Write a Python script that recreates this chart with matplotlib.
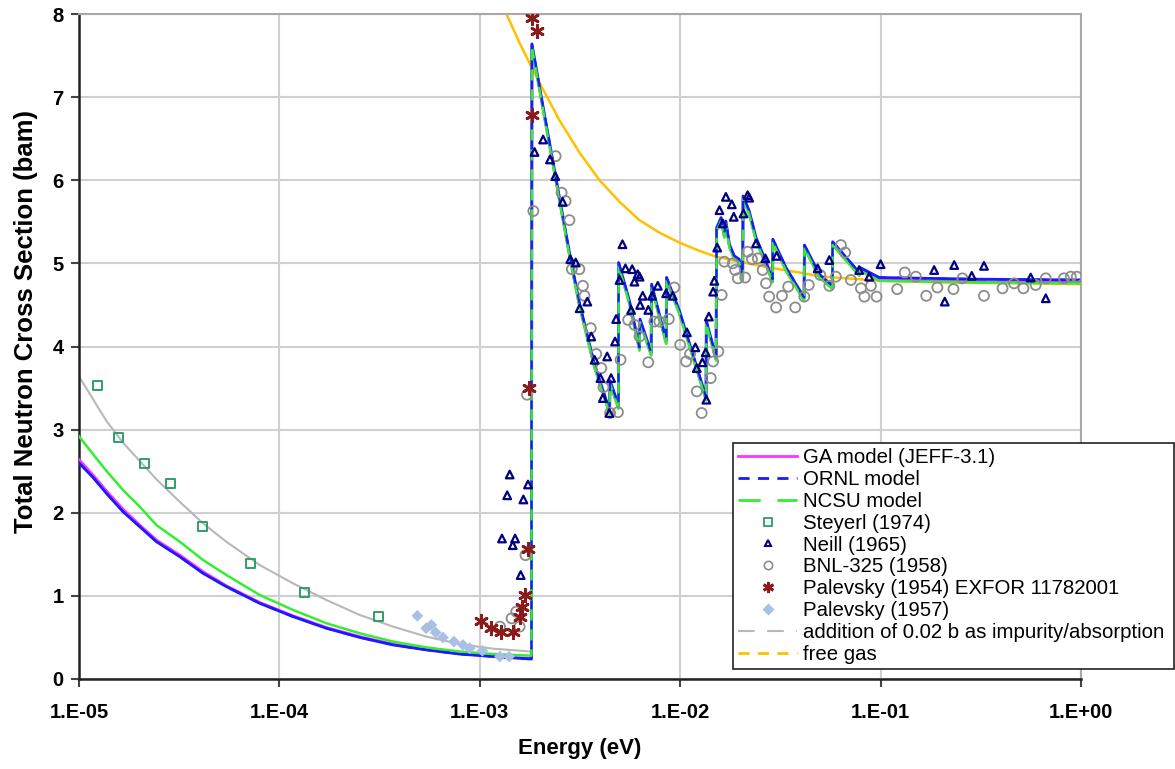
import numpy as np
import matplotlib
matplotlib.use("Agg")
import matplotlib.pyplot as plt
from matplotlib.lines import Line2D
from matplotlib.ticker import FixedLocator, FixedFormatter, NullLocator

plt.rcParams['font.family'] = ['Liberation Sans', 'DejaVu Sans']

# ---------------- data ----------------
# low-energy part of the models (below the Bragg cut-off); energy in eV, sigma in barn
low_E = [1.0e-5, 1.179e-5, 1.374e-5, 1.663e-5, 2.014e-5, 2.439e-5, 3.188e-5, 4.168e-5,
         5.447e-5, 7.986e-5, 1.171e-4, 1.717e-4, 2.517e-4, 3.69e-4, 5.41e-4, 7.93e-4,
         1.163e-3, 1.81e-3]
ornl_low = [2.60, 2.42, 2.23, 2.01, 1.83, 1.65, 1.47, 1.27,
            1.11, 0.91, 0.75, 0.61, 0.50, 0.41, 0.35, 0.30,
            0.27, 0.24]
ga_low = [2.64, 2.45, 2.26, 2.04, 1.85, 1.67, 1.49, 1.29,
          1.12, 0.92, 0.76, 0.62, 0.51, 0.42, 0.355, 0.305,
          0.275, 0.245]
ncsu_low = [2.92, 2.70, 2.50, 2.27, 2.07, 1.85, 1.65, 1.43,
            1.25, 1.01, 0.83, 0.67, 0.55, 0.45, 0.38, 0.33,
            0.30, 0.28]
imp_low = [3.64, 3.36, 3.10, 2.84, 2.62, 2.40, 2.13, 1.87,
           1.65, 1.37, 1.15, 0.95, 0.77, 0.63, 0.51, 0.42,
           0.365, 0.33]

# Bragg-edge (sawtooth) part shared by the models
bragg_E = [1.82e-3, 2.07e-3, 2.38e-3, 2.83e-3, 3.15e-3, 3.73e-3, 4.44e-3, 4.47e-3,
           4.92e-3, 4.93e-3, 5.58e-3, 6.26e-3, 6.30e-3, 7.16e-3, 7.20e-3, 8.51e-3,
           8.55e-3, 9.91e-3, 1.155e-2, 1.346e-2, 1.35e-2, 1.51e-2, 1.52e-2, 1.60e-2,
           1.66e-2, 1.69e-2, 1.76e-2, 1.86e-2, 1.97e-2, 2.05e-2, 2.06e-2, 2.21e-2,
           2.39e-2, 2.63e-2, 2.89e-2, 2.90e-2, 3.37e-2, 4.15e-2, 4.17e-2, 4.94e-2,
           5.75e-2, 5.76e-2, 7.82e-2, 7.90e-2, 9.84e-2, 0.30, 1.0]
bragg_sigma = [7.61, 6.85, 6.04, 5.04, 4.48, 3.76, 3.20, 3.56,
               3.26, 4.98, 4.52, 3.96, 4.30, 3.90, 4.72, 4.04,
               4.80, 4.40, 3.88, 3.36, 4.28, 3.84, 5.40, 5.52,
               5.32, 5.48, 5.20, 5.06, 5.02, 4.80, 5.78, 5.60,
               5.28, 5.04, 4.78, 5.26, 4.92, 4.56, 5.19, 4.84,
               4.70, 5.23, 4.86, 4.92, 4.80, 4.78, 4.77]
ornl_high_offset = 0.03

# free gas
fg_E = [1.33e-3, 1.58e-3, 1.92e-3, 2.50e-3, 3.15e-3, 3.96e-3, 4.98e-3, 6.26e-3,
        7.87e-3, 9.91e-3, 1.25e-2, 1.51e-2, 1.97e-2, 2.78e-2, 3.93e-2, 5.12e-2,
        0.102, 0.22, 1.0]
fg_sigma = [8.05, 7.65, 7.24, 6.72, 6.33, 6.00, 5.74, 5.52,
            5.37, 5.25, 5.15, 5.08, 5.02, 4.95, 4.89, 4.84,
            4.79, 4.77, 4.75]

# Steyerl (1974)
steyerl_E = [1.23e-5, 1.58e-5, 2.13e-5, 2.87e-5, 4.14e-5, 7.15e-5, 1.33e-4, 3.14e-4]
steyerl_sigma = [3.53, 2.90, 2.59, 2.35, 1.83, 1.39, 1.04, 0.75]

# Neill (1965)
neill_E = [1.41e-3, 1.37e-3, 1.65e-3, 1.74e-3, 1.29e-3, 1.50e-3, 1.46e-3, 1.60e-3,
           1.875e-3, 2.07e-3, 2.24e-3, 2.38e-3, 2.59e-3, 2.83e-3, 3.01e-3, 3.15e-3,
           3.44e-3, 3.60e-3, 3.74e-3, 4.32e-3, 4.00e-3, 4.52e-3, 4.11e-3, 4.43e-3,
           5.15e-3, 4.98e-3, 4.79e-3, 4.73e-3, 5.33e-3, 5.76e-3, 5.91e-3, 5.69e-3,
           6.14e-3, 6.27e-3, 6.50e-3, 6.31e-3, 6.93e-3, 7.24e-3, 7.73e-3, 8.51e-3,
           9.18e-3, 1.08e-2, 1.19e-2, 1.21e-2, 1.29e-2, 1.34e-2, 1.35e-2, 1.39e-2,
           1.46e-2, 1.48e-2, 1.53e-2, 1.57e-2, 1.69e-2, 1.81e-2, 1.85e-2, 1.63e-2,
           2.07e-2, 2.17e-2, 2.21e-2, 2.39e-2, 2.66e-2, 3.03e-2, 4.85e-2, 5.55e-2,
           0.100, 7.82e-2, 8.77e-2, 0.185, 0.233, 0.328, 0.285, 0.209, 0.561, 0.667]
neill_sigma = [2.46, 2.21, 2.16, 2.34, 1.69, 1.69, 1.61, 1.25,
               6.34, 6.49, 6.25, 6.05, 5.74, 5.05, 5.01, 4.46,
               4.54, 4.12, 3.84, 3.88, 3.62, 3.62, 3.38, 3.20,
               5.23, 4.80, 4.33, 4.06, 4.94, 4.93, 4.78, 4.44,
               4.87, 4.84, 4.61, 4.50, 4.44, 4.61, 4.73, 4.64,
               4.61, 4.17, 3.99, 3.74, 3.81, 3.93, 3.36, 4.36,
               4.66, 4.79, 5.19, 5.64, 5.80, 5.71, 5.56, 5.48,
               5.60, 5.82, 5.79, 5.24, 5.06, 5.09, 4.94, 5.04,
               4.99, 4.92, 4.84, 4.92, 4.98, 4.97, 4.85, 4.54, 4.83, 4.58]

# BNL-325 (1958)
bnl_E = [1.26e-3, 1.44e-3, 1.52e-3, 1.58e-3, 1.69e-3, 1.72e-3, 1.85e-3,
         2.39e-3, 2.56e-3, 2.68e-3, 2.80e-3, 2.88e-3, 3.14e-3, 3.27e-3, 3.33e-3,
         3.58e-3, 3.81e-3, 4.04e-3, 4.14e-3, 4.47e-3, 4.89e-3, 5.04e-3,
         5.50e-3, 5.92e-3, 6.27e-3, 6.93e-3, 7.43e-3, 7.87e-3, 8.77e-3, 9.35e-3,
         1.00e-2, 1.07e-2, 1.12e-2, 1.21e-2, 1.28e-2, 1.42e-2, 1.46e-2, 1.55e-2,
         1.61e-2, 1.66e-2, 1.83e-2, 1.88e-2, 1.94e-2, 2.11e-2, 2.17e-2, 2.28e-2,
         2.44e-2, 2.58e-2, 2.68e-2, 2.78e-2, 3.01e-2, 3.22e-2, 3.46e-2, 3.75e-2,
         4.16e-2, 4.38e-2, 5.00e-2, 5.55e-2, 5.98e-2, 6.34e-2, 6.65e-2, 7.11e-2,
         7.98e-2, 8.30e-2, 8.95e-2, 9.55e-2, 0.121, 0.132, 0.150, 0.169, 0.192,
         0.231, 0.256, 0.328, 0.406, 0.463, 0.516, 0.594, 0.667, 0.822, 0.889, 0.953]
bnl_sigma = [0.63, 0.73, 0.81, 0.63, 1.49, 3.42, 5.63,
             6.29, 5.85, 5.75, 5.52, 4.93, 4.93, 4.73, 4.61,
             4.22, 3.91, 3.74, 3.51, 3.20, 3.21, 3.84,
             4.32, 4.26, 4.12, 3.81, 4.30, 4.30, 4.33, 4.71,
             4.02, 3.82, 3.91, 3.46, 3.20, 3.62, 3.82, 3.94,
             4.62, 5.02, 5.00, 4.92, 4.82, 4.83, 5.14, 5.05,
             5.06, 4.92, 4.76, 4.60, 4.47, 4.61, 4.72, 4.47,
             4.60, 4.74, 4.86, 4.73, 4.84, 5.22, 5.13, 4.80,
             4.70, 4.60, 4.73, 4.60, 4.69, 4.89, 4.84, 4.61, 4.71,
             4.69, 4.82, 4.61, 4.70, 4.76, 4.70, 4.74, 4.82, 4.82, 4.84, 4.84]

# Palevsky (1954) EXFOR 11782001
pal54_E = [1.016e-3, 1.14e-3, 1.28e-3, 1.46e-3, 1.58e-3, 1.63e-3, 1.69e-3,
           1.74e-3, 1.77e-3, 1.83e-3, 1.83e-3, 1.94e-3]
pal54_sigma = [0.70, 0.61, 0.57, 0.57, 0.75, 0.87, 1.01, 1.56, 3.50, 6.79, 7.95, 7.79]

# Palevsky (1957)
pal57_E = [4.88e-4, 5.40e-4, 5.73e-4, 6.02e-4, 6.55e-4, 7.43e-4, 8.24e-4,
           8.90e-4, 1.03e-3, 1.26e-3, 1.40e-3]
pal57_sigma = [0.76, 0.61, 0.65, 0.56, 0.50, 0.45, 0.41, 0.37, 0.34, 0.27, 0.27]

x_ticks = [1e-5, 1e-4, 1e-3, 1e-2, 1e-1, 1e0]
x_tick_labels = ["1.E-05", "1.E-04", "1.E-03", "1.E-02", "1.E-01", "1.E+00"]
y_ticks = [0, 1, 2, 3, 4, 5, 6, 7, 8]

legend_labels = ["GA model (JEFF-3.1)", "ORNL model", "NCSU model", "Steyerl (1974)",
                 "Neill (1965)", "BNL-325 (1958)", "Palevsky (1954) EXFOR 11782001",
                 "Palevsky (1957)", "addition of 0.02 b as impurity/absorption", "free gas"]

# ---------------- figure ----------------
fig = plt.figure(figsize=(11.75, 7.69), dpi=100)
ax = fig.add_axes([79 / 1175, 1 - 679 / 769, (1081 - 79) / 1175, (679 - 14) / 769])

c_ga, c_ornl, c_ncsu = "#ff33ff", "#1a1aff", "#33ee33"
c_imp, c_fg = "#b8b8b8", "#ffc000"
c_st, c_ne, c_bnl, c_p54, c_p57 = "#2e9e6a", "#000080", "#8c8c8c", "#8b1a1a", "#a8c0e6"

E_all = low_E + bragg_E
ga = ga_low + bragg_sigma
ornl = ornl_low + [s + ornl_high_offset for s in bragg_sigma]
ncsu = ncsu_low + [s - 0.01 for s in bragg_sigma]
imp = imp_low + bragg_sigma

ax.plot(E_all, imp, color=c_imp, lw=1.5, zorder=2)
ax.plot(fg_E, fg_sigma, color=c_fg, lw=1.8, zorder=2)
ax.plot(E_all, ga, color=c_ga, lw=2.0, zorder=3)
ax.plot(E_all, ornl, color=c_ornl, lw=2.0, zorder=4)
ax.plot(E_all, ncsu, color=c_ncsu, lw=1.8, zorder=5)
ax.plot(E_all, ornl, color=c_ornl, lw=1.6, dashes=(4, 5), zorder=6)

ax.scatter(steyerl_E, steyerl_sigma, marker='s', s=42, facecolors='none',
           edgecolors=c_st, linewidths=1.4, zorder=7)
ax.scatter(pal57_E, pal57_sigma, marker='D', s=36, color=c_p57, edgecolors='none', zorder=7)
ax.scatter(bnl_E, bnl_sigma, marker='o', s=52, facecolors='none',
           edgecolors=c_bnl, linewidths=1.3, zorder=7)
ax.scatter(neill_E, neill_sigma, marker='^', s=30, facecolors='none',
           edgecolors=c_ne, linewidths=1.6, zorder=8)
ax.scatter(pal54_E, pal54_sigma, marker=(6, 2, 0), s=80, color=c_p54,
           linewidths=2.0, zorder=9)

ax.set_xscale('log')
ax.set_xlim(1e-5, 1.0)
ax.set_ylim(0, 8)
ax.xaxis.set_major_locator(FixedLocator(x_ticks))
ax.xaxis.set_major_formatter(FixedFormatter(x_tick_labels))
ax.xaxis.set_minor_locator(NullLocator())
ax.set_yticks(y_ticks)

ax.grid(True, which='major', color='#d0d0d0', lw=1.5, zorder=0)
ax.set_axisbelow(True)
for s in ['top', 'right']:
    ax.spines[s].set_color('#a8a8a8')
    ax.spines[s].set_linewidth(1.5)
for s in ['left', 'bottom']:
    ax.spines[s].set_color('#222222')
    ax.spines[s].set_linewidth(1.8)
ax.tick_params(axis='both', direction='out', length=6, width=1.5, color='#444444',
               labelsize=14.5)
ax.tick_params(axis='y', pad=5)
ax.tick_params(axis='x', pad=11)
for lab in ax.get_xticklabels() + ax.get_yticklabels():
    lab.set_fontweight('bold')

ax.set_xlabel("Energy (eV)", fontsize=16, fontweight='bold', labelpad=12)
ax.set_ylabel("Total Neutron Cross Section (bam)", fontsize=18.5, fontweight='bold')
ax.yaxis.set_label_coords(-0.041, 0.537)

handles = [
    Line2D([], [], color=c_ga, lw=2),
    Line2D([], [], color=c_ornl, lw=2, dashes=(4, 3)),
    Line2D([], [], color=c_ncsu, lw=2, dashes=(8, 6)),
    Line2D([], [], ls='none', marker='s', mfc='none', mec=c_st, ms=6, mew=1.3),
    Line2D([], [], ls='none', marker='^', mfc='none', mec=c_ne, ms=5, mew=1.5),
    Line2D([], [], ls='none', marker='o', mfc='none', mec=c_bnl, ms=6, mew=1.2),
    Line2D([], [], ls='none', marker=(6, 2, 0), color=c_p54, ms=8, mew=2),
    Line2D([], [], ls='none', marker='D', color=c_p57, mec='none', ms=6),
    Line2D([], [], color=c_imp, lw=1.5, dashes=(8, 6)),
    Line2D([], [], color=c_fg, lw=2, dashes=(4, 3)),
]
leg = fig.legend(handles, legend_labels, loc='lower left',
                 bbox_to_anchor=(733 / 1175, 1 - 669 / 769, (1174 - 733) / 1175, (669 - 441) / 769),
                 bbox_transform=fig.transFigure, mode='expand', fontsize=14.7,
                 frameon=True, fancybox=False, edgecolor='#222222', framealpha=1,
                 handlelength=2.9, handletextpad=0.3, labelspacing=0.14,
                 borderpad=0.25, borderaxespad=0)
leg.get_frame().set_linewidth(1.2)
leg.set_zorder(20)

fig.savefig("out.png", dpi=100)
